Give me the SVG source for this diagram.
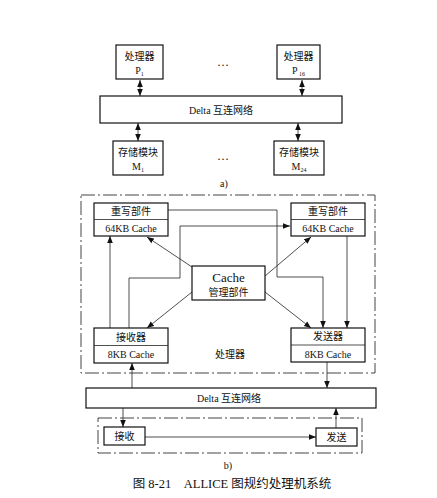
<svg xmlns="http://www.w3.org/2000/svg" width="437" height="498" viewBox="0 0 437 498">
<defs>
<marker id="ah" viewBox="0 0 10 10" refX="10" refY="5" markerWidth="7" markerHeight="7" markerUnits="userSpaceOnUse" orient="auto-start-reverse">
<path d="M0,1 L10,5 L0,9 Z" fill="#111"/>
</marker>
<style>
.box{fill:#fff;stroke:#111;stroke-width:1.2}
.frame{fill:none;stroke:#444;stroke-width:1;stroke-dasharray:14 3 2 3}
.ln{fill:none;stroke:#222;stroke-width:0.8}
.arr{fill:none;stroke:#222;stroke-width:0.8;marker-end:url(#ah)}
.dbl{fill:none;stroke:#222;stroke-width:0.8;marker-end:url(#ah);marker-start:url(#ah)}
.t{font-family:"Liberation Serif","Noto Sans CJK SC",serif;font-size:10px;fill:#111;text-anchor:middle}
.cn{font-family:"Noto Sans CJK SC","Liberation Serif",sans-serif;font-size:10px;fill:#111;text-anchor:middle}
</style>
</defs>

<!-- part a -->
<g id="a-connectors">
<line class="dbl" x1="140" y1="80" x2="140" y2="96"/>
<line class="dbl" x1="302" y1="80" x2="302" y2="96"/>
<line class="dbl" x1="138" y1="123" x2="138" y2="141"/>
<line class="dbl" x1="298" y1="123" x2="298" y2="141"/>
</g>
<g id="p1">
<rect class="box" x="116" y="45" width="47" height="34"/>
<text class="cn" x="139.5" y="60">处理器</text>
<text class="t" x="139.5" y="74">P<tspan font-size="6" dy="2">1</tspan></text>
</g>
<g id="p16">
<rect class="box" x="277" y="45" width="43" height="34"/>
<text class="cn" x="298.5" y="60">处理器</text>
<text class="t" x="298.5" y="74">P<tspan font-size="6" dy="2"> 16</tspan></text>
</g>
<text class="t" x="223" y="66" style="font-size:12px">…</text>
<g id="delta-a">
<rect class="box" x="100" y="96" width="242" height="27"/>
<text class="t" x="221" y="113.5">Delta <tspan font-family="Noto Sans CJK SC">互连网络</tspan></text>
</g>
<g id="m1">
<rect class="box" x="113" y="141" width="50" height="34"/>
<text class="cn" x="138" y="156">存储模块</text>
<text class="t" x="138" y="170">M<tspan font-size="6" dy="2">1</tspan></text>
</g>
<g id="m24">
<rect class="box" x="274" y="141" width="50" height="34"/>
<text class="cn" x="299" y="156">存储模块</text>
<text class="t" x="299" y="170">M<tspan font-size="6" dy="2">24</tspan></text>
</g>
<text class="t" x="223" y="160" style="font-size:12px">…</text>
<text class="t" x="224" y="187">a)</text>

<!-- part b -->
<rect class="frame" x="81" y="195" width="294" height="178"/>
<g id="b-connectors">
<line class="arr" x1="110" y1="328" x2="110" y2="236"/>
<polyline class="arr" points="129,328 129,278 180,278 180,226 290,226"/>
<polyline class="arr" points="168,210 277,210 277,277 323,277 323,328"/>
<line class="arr" x1="347" y1="236" x2="347" y2="328"/>
<line class="arr" x1="192" y1="267" x2="147" y2="237"/>
<line class="arr" x1="192" y1="292" x2="147" y2="328"/>
<line class="arr" x1="265" y1="276" x2="311" y2="237"/>
<line class="arr" x1="265" y1="292" x2="311" y2="328"/>
<line class="arr" x1="132" y1="388" x2="132" y2="363"/>
<line class="arr" x1="327" y1="362" x2="327" y2="388"/>
<line class="arr" x1="123" y1="408" x2="123" y2="427"/>
<line class="arr" x1="336" y1="428" x2="336" y2="408"/>
<line class="arr" x1="145" y1="437" x2="316" y2="437"/>
</g>
<g id="rewrite-left">
<rect class="box" x="94" y="203" width="74" height="33"/>
<line class="ln" x1="94" y1="219.5" x2="168" y2="219.5" stroke-width="1.1"/>
<text class="cn" x="131" y="215">重写部件</text>
<text class="t" x="131" y="231.5">64KB Cache</text>
</g>
<g id="rewrite-right">
<rect class="box" x="291" y="203" width="74" height="33"/>
<line class="ln" x1="291" y1="219.5" x2="365" y2="219.5" stroke-width="1.1"/>
<text class="cn" x="328" y="215">重写部件</text>
<text class="t" x="328" y="231.5">64KB Cache</text>
</g>
<g id="cache-mgr">
<rect class="box" x="192" y="266" width="73" height="34"/>
<text class="t" x="228.5" y="282" style="font-size:13px">Cache</text>
<text class="cn" x="228.5" y="296">管理部件</text>
</g>
<g id="receiver">
<rect class="box" x="94" y="328" width="74" height="35"/>
<line class="ln" x1="94" y1="345.5" x2="168" y2="345.5" stroke-width="1.1"/>
<text class="cn" x="131" y="340.5">接收器</text>
<text class="t" x="131" y="358">8KB Cache</text>
</g>
<g id="sender">
<rect class="box" x="291" y="328" width="74" height="34"/>
<line class="ln" x1="291" y1="345" x2="365" y2="345" stroke-width="1.1"/>
<text class="cn" x="328" y="340">发送器</text>
<text class="t" x="328" y="357.5">8KB Cache</text>
</g>
<text class="cn" x="230" y="358">处理器</text>
<g id="delta-b">
<rect class="box" x="86" y="388" width="290" height="20"/>
<text class="t" x="229" y="401.5">Delta <tspan font-family="Noto Sans CJK SC">互连网络</tspan></text>
</g>
<rect class="frame" x="98" y="418" width="264" height="35"/>
<g id="recv">
<rect class="box" x="104" y="427" width="41" height="18"/>
<text class="cn" x="124.5" y="440">接收</text>
</g>
<g id="send">
<rect class="box" x="316" y="428" width="41" height="18"/>
<text class="cn" x="336.5" y="441">发送</text>
</g>
<text class="t" x="228" y="469">b)</text>
<text class="t" x="232" y="488" style="font-size:12.5px" xml:space="preserve">图 8-21    ALLICE 图规约处理机系统</text>
</svg>
